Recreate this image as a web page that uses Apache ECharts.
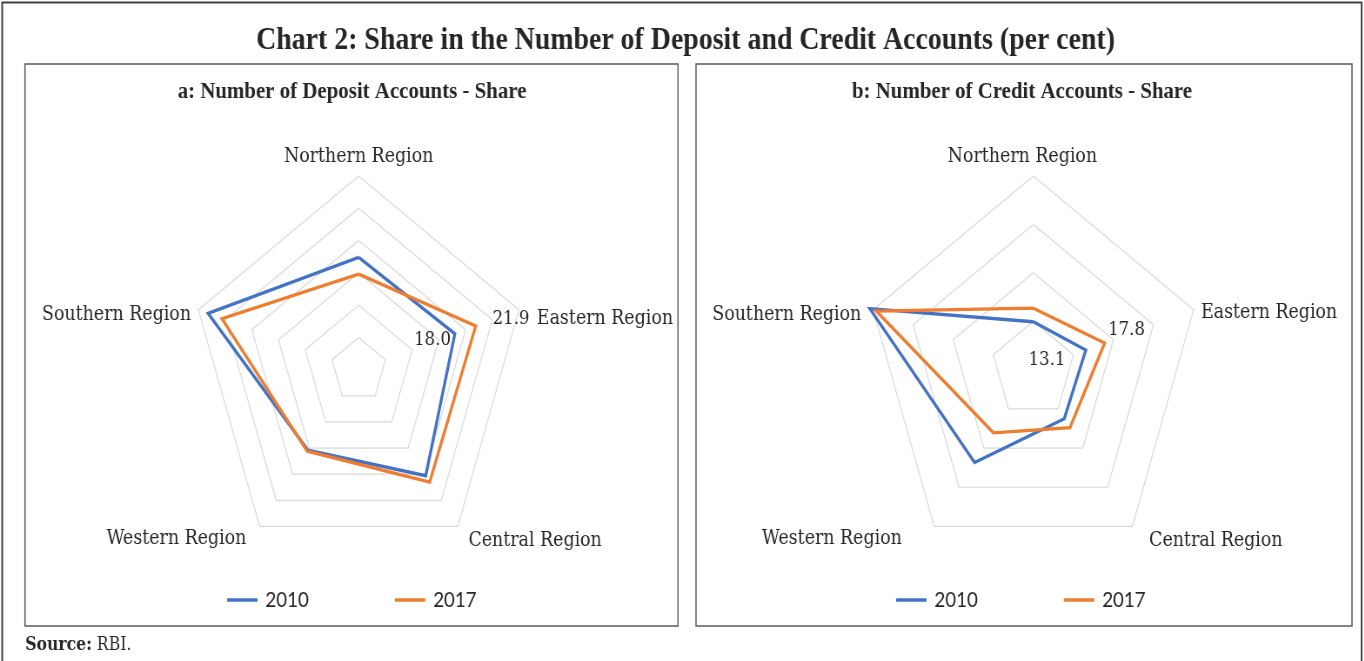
<!DOCTYPE html>
<html>
<head>
<meta charset="utf-8">
<title>Chart 2</title>
<script src="https://cdn.jsdelivr.net/npm/echarts@6/dist/echarts.min.js"></script>
<style>
  html, body { margin: 0; padding: 0; background: #fff; overflow: hidden; }
  /* the source picture is squeezed horizontally, so the page is drawn wider and squeezed the same way */
  #main { width: 1568px; height: 661px; transform: scaleX(0.87); transform-origin: 0 0; }
</style>
</head>
<body>
<div id="main"></div>
<script>
// indicator order is counter-clockwise from the top, as echarts lays radar axes out
var regions = ['Northern Region', 'Southern Region', 'Western Region', 'Central Region', 'Eastern Region'];
var years = ['2010', '2017'];

var deposit2010 = [17.4, 28.2, 15.4, 20.3, 18.0];
var deposit2017 = [14.8, 25.6, 15.6, 21.5, 21.9];
var depositMax = 30;
var depositSplit = 6;

var credit2010 = [9.9, 40.8, 23.7, 12.5, 13.1];
var credit2017 = [12.7, 39.2, 16.1, 14.8, 17.8];
var creditMax = 40;
var creditSplit = 4;

var BLUE = '#4472C4';
var ORANGE = '#ED7D31';
var TXT = '#262626';
var SERIF = '"DejaVu Serif", serif';
var TITLE_FONT = '"Liberation Serif", serif';

// little nudges of the region names, same order as regions: [top, right, bottom, left]
var depositNamePad = [[0, 0, 0, 0], [16, 0, 0, 0], [10, 10, 0, 0], [14, 0, 0, 7], [24, 0, 0, 12]];
var creditNamePad = [[0, 25, 0, 0], [16, 5, 0, 0], [10, 32, 0, 0], [14, 0, 0, 14], [12, 0, 0, 0]];

var myChart = echarts.init(document.getElementById('main'));

// only the Eastern point of each line carries a label
function eastLabel(vals, pos, dist, off) {
	var v = vals[vals.length - 1];
	return {
		show: true,
		position: pos,
		distance: dist,
		offset: off,
		color: TXT,
		fontFamily: SERIF,
		fontSize: 19,
		formatter: function (p) { return p.value === v ? v.toFixed(1) : ''; }
	};
}

function radarOpt(cx, max, split, pads) {
	var rich = {};
	pads.forEach(function (p, i) {
		rich['r' + i] = {padding: p, color: TXT, fontFamily: SERIF, fontSize: 20};
	});
	return {
		center: [cx, 369.7],
		radius: 193.7,
		startAngle: 90,
		shape: 'polygon',
		splitNumber: split,
		indicator: regions.map(function (r) { return {name: r, min: 0, max: max}; }),
		axisNameGap: 9,
		axisName: {
			color: TXT, fontFamily: SERIF, fontSize: 20,
			formatter: function (name) { return '{r' + regions.indexOf(name) + '|' + name + '}'; },
			rich: rich
		},
		axisLine: {show: false},
		axisTick: {show: false},
		axisLabel: {show: false},
		splitArea: {show: false},
		splitLine: {lineStyle: {color: '#D9D9D9', width: 1.2}}
	};
}

function item(name, vals, color, label) {
	return {
		name: name,
		value: vals,
		symbol: 'circle',
		symbolSize: 1,
		itemStyle: {color: color},
		lineStyle: {color: color, width: 3.3, join: 'miter'},
		label: label
	};
}

function legendOpt(x) {
	return {
		data: years,
		left: x,
		top: 584,
		icon: 'roundRect',
		itemWidth: 35,
		itemHeight: 3.5,
		itemGap: 99,
		selectedMode: false,
		textStyle: {color: TXT, fontFamily: 'Lato, "Open Sans", sans-serif', fontSize: 21.5, padding: [0, 0, 0, 4]}
	};
}

var option = {
	animation: false,
	radar: [
		radarOpt(412.3, depositMax, depositSplit, depositNamePad),
		radarOpt(1187.7, creditMax, creditSplit, creditNamePad)
	],
	legend: [legendOpt(256), legendOpt(1025)],
	series: [
		{
			type: 'radar',
			radarIndex: 0,
			emphasis: {disabled: true},
			data: [
				item('2010', deposit2010, BLUE, eastLabel(deposit2010, 'left', 4, [0, 6])),
				item('2017', deposit2017, ORANGE, eastLabel(deposit2017, 'right', 19, [0, -7]))
			]
		},
		{
			type: 'radar',
			radarIndex: 1,
			emphasis: {disabled: true},
			data: [
				item('2010', credit2010, BLUE, eastLabel(credit2010, 'left', 23, [0, 10])),
				item('2017', credit2017, ORANGE, eastLabel(credit2017, 'right', 3.5, [0, -13]))
			]
		}
	],
	graphic: [
		// outer frame (no bottom edge)
		{type: 'polyline', silent: true, shape: {points: [[2.5, 661], [2.5, 2.5], [1565, 2.5], [1565, 661]]},
			style: {fill: null, stroke: '#404040', lineWidth: 2}},
		// the two panels
		{type: 'rect', silent: true, shape: {x: 28.7, y: 64, width: 750.6, height: 562},
			style: {fill: null, stroke: '#595959', lineWidth: 1.5}},
		{type: 'rect', silent: true, shape: {x: 800, y: 64, width: 754, height: 562},
			style: {fill: null, stroke: '#595959', lineWidth: 1.5}},
		{type: 'text', silent: true, x: 788, y: 41,
			style: {text: 'Chart 2: Share in the Number of Deposit and Credit Accounts (per cent)',
				fill: TXT, font: 'bold 32px ' + TITLE_FONT, textAlign: 'center', textVerticalAlign: 'middle'}},
		{type: 'text', silent: true, x: 404.6, y: 92,
			style: {text: 'a: Number of Deposit Accounts - Share',
				fill: TXT, font: 'bold 24px ' + TITLE_FONT, textAlign: 'center', textVerticalAlign: 'middle'}},
		{type: 'text', silent: true, x: 1174.7, y: 92,
			style: {text: 'b: Number of Credit Accounts - Share',
				fill: TXT, font: 'bold 24px ' + TITLE_FONT, textAlign: 'center', textVerticalAlign: 'middle'}},
		{type: 'text', silent: true, x: 29, y: 645,
			style: {text: '{b|Source:} RBI.', fill: TXT, font: '18px ' + SERIF, textVerticalAlign: 'middle',
				rich: {b: {fontWeight: 'bold', fontFamily: SERIF, fontSize: 18, fill: TXT}}}}
	]
};

myChart.setOption(option);
</script>
</body>
</html>
